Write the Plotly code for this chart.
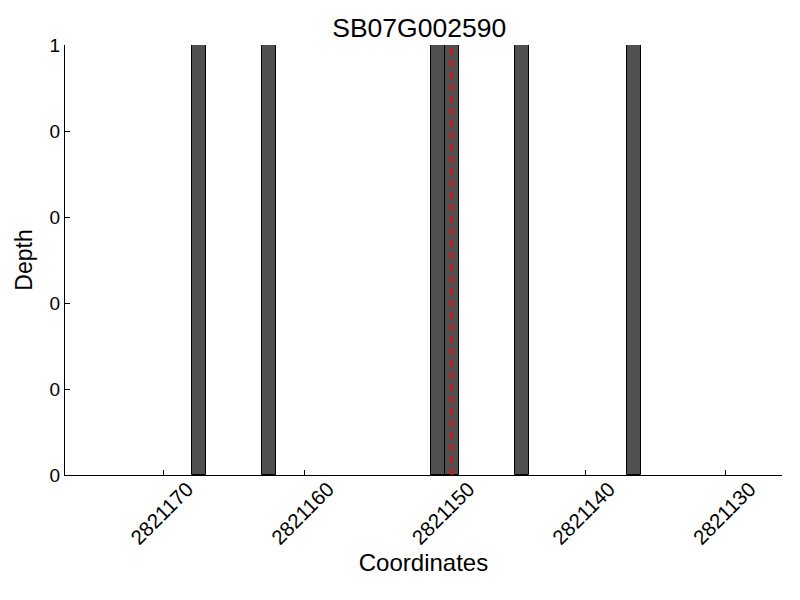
import plotly.graph_objects as go

# Data
positions = [2821167, 2821162, 2821150, 2821149, 2821144, 2821136]  # left edge of each 1-bp bin
depth = [1, 1, 1, 1, 1, 1]
target_pos = 2821149.5
x_tick_vals = [2821170, 2821160, 2821150, 2821140, 2821130]
x_tick_text = ["2821170", "2821160", "2821150", "2821140", "2821130"]
y_tick_vals = [0, 0.2, 0.4, 0.6, 0.8, 1.0]
y_tick_text = ["0", "0", "0", "0", "0", "1"]
title = "SB07G002590"

FONT = "Liberation Sans, Arial, sans-serif"

fig = go.Figure()
fig.add_trace(go.Bar(
    x=positions, y=depth, width=1, offset=0,
    marker=dict(color="#505050", line=dict(color="black", width=1)),
    showlegend=False, hoverinfo="x+y",
))
fig.add_trace(go.Scatter(
    x=[target_pos, target_pos], y=[0, 1], mode="lines",
    line=dict(color="red", width=2, dash="7px,5px"),
    showlegend=False,
))

fig.update_layout(
    width=800, height=600,
    margin=dict(l=65, r=18, t=45, b=125, autoexpand=False),
    plot_bgcolor="white", paper_bgcolor="white",
    font=dict(family=FONT, color="black"),
    title=dict(text=title, xref="paper", x=0.494, xanchor="center", y=0.953, yanchor="middle",
               font=dict(size=26.5, family=FONT, color="black"), automargin=False),
    bargap=0,
)
fig.update_xaxes(
    range=[2821177, 2821126], autorange=False, automargin=False,
    tickvals=x_tick_vals, ticktext=x_tick_text, tickangle=-45,
    ticks="inside", ticklen=5, tickcolor="black", tickwidth=1,
    showline=True, linecolor="black", linewidth=1, mirror=False,
    showgrid=False, zeroline=False,
    tickfont=dict(size=20.5, family=FONT, color="black"),
    ticklabelshift=-24, ticklabelstandoff=-7,
    title=dict(text="Coordinates", font=dict(size=24, family=FONT, color="black"), standoff=3),
)
fig.update_yaxes(
    range=[0, 1], autorange=False, automargin=False,
    tickvals=y_tick_vals, ticktext=y_tick_text,
    ticks="inside", ticklen=5, tickcolor="black", tickwidth=1,
    showline=True, linecolor="black", linewidth=1, mirror=False,
    showgrid=False, zeroline=False,
    tickfont=dict(size=19, family=FONT, color="black"),
    title=dict(text="Depth", font=dict(size=23, family=FONT, color="black"), standoff=10),
)

fig.write_html("out.html", config={"displayModeBar": False},
               post_script="document.body.style.margin='0';")
